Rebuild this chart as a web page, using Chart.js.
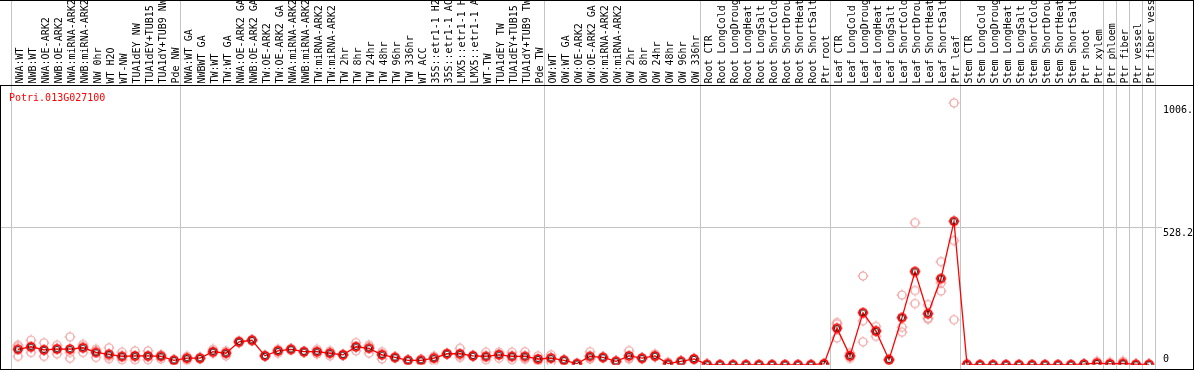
<!DOCTYPE html>
<html><head><meta charset="utf-8">
<script src="https://cdn.jsdelivr.net/npm/chart.js@4.4.1/dist/chart.umd.min.js"></script>
<style>html,body{margin:0;padding:0;background:#fff;overflow:hidden}#wrap{width:1194px;height:370px;position:relative}canvas{display:block}</style>
</head><body><div id="wrap"><canvas id="c" width="1194" height="370"></canvas></div>
<script>
const geneId = 'Potri.013G027100';
const categories = [
  'NWA:WT','NWB:WT','NWA:OE-ARK2','NWB:OE-ARK2','NWA:miRNA-ARK2','NWB:miRNA-ARK2','NW 0hr','WT H2O','WT-NW','TUA1dEY NW','TUA1dEY+TUB15','TUA1dY+TUB9 NW','Pde NW',
  'NWA:WT GA','NWBWT GA','TW:WT','TW:WT GA','NWA:OE-ARK2 GA','NWB:OE-ARK2 GA','TW:OE-ARK2','TW:OE-ARK2 GA','NWA:miRNA-ARK2','NWB:miRNA-ARK2','TW:miRNA-ARK2','TW:miRNA-ARK2','TW 2hr','TW 8hr','TW 24hr','TW 48hr','TW 96hr','TW 336hr','WT ACC','35S::etr1-1 H2','35S::etr1-1 AC','LMX5::etr1-1 H','LMX5::etr1-1 A','WT-TW','TUA1dEY TW','TUA1dEY+TUB15','TUA1dY+TUB9 TW','Pde TW',
  'OW:WT','OW:WT GA','OW:OE-ARK2','OW:OE-ARK2 GA','OW:miRNA-ARK2','OW:miRNA-ARK2','OW 2hr','OW 8hr','OW 24hr','OW 48hr','OW 96hr','OW 336hr',
  'Root CTR','Root LongCold','Root LongDroug','Root LongHeat','Root LongSalt','Root ShortCold','Root ShortDrou','Root ShortHeat','Root ShortSalt','Ptr root',
  'Leaf CTR','Leaf LongCold','Leaf LongDroug','Leaf LongHeat','Leaf LongSalt','Leaf ShortCold','Leaf ShortDrou','Leaf ShortHeat','Leaf ShortSalt','Ptr leaf',
  'Stem CTR','Stem LongCold','Stem LongDroug','Stem LongHeat','Stem LongSalt','Stem ShortCold','Stem ShortDrou','Stem ShortHeat','Stem ShortSalt','Ptr shoot','Ptr xylem',
  'Ptr phloem','Ptr fiber','Ptr vessel','Ptr fiber vess'
];
const groupSizes = [13, 28, 12, 10, 10, 11, 1, 1, 1, 1];
const meanValues = [
  59,69,57,60,60,65,47,40,32,34,34,32,17,
  25,25,50,44,88,94,34,53,59,50,50,44,38,69,63,38,28,17,17,25,42,42,34,32,38,32,32,22,
  25,17,4,32,28,13,34,25,34,4,13,22,
  1,0,0,0,0,0,0,0,0,3,
  140,34,200,129,19,181,358,196,331,551,
  1,0,0,0,0,0,0,0,0,2,6,
  3,5,1,1
];
const rep1 = [
  75,94,84,75,107,78,59,65,48,53,53,38,19,
  32,28,59,53,92,96,36,59,62,52,59,53,40,85,75,50,30,19,22,32,44,63,36,48,48,48,50,34,
  38,19,5,50,30,15,54,27,41,10,15,25,
  2,0,0,0,0,0,0,0,0,5,
  162,45,341,147,22,268,546,231,396,1006,
  2,0,0,0,0,0,0,0,0,3,13,
  9,13,2,2
];
const rep2 = [
  32,47,32,42,47,47,28,32,19,19,19,22,15,
  17,22,44,34,84,92,32,44,56,48,41,34,36,53,44,22,26,15,10,13,40,28,32,19,25,19,25,13,
  10,15,3,22,26,11,22,23,30,1,11,19,
  1,0,0,0,0,0,0,0,0,2,
  156,25,169,109,16,144,285,179,315,477,
  1,0,0,0,0,0,0,0,0,2,3,
  1,2,1,1
];
const rep3 = [
  70,66,55,63,25,70,54,23,29,30,30,36,17,
  26,25,47,45,88,94,34,56,59,50,50,45,38,69,70,42,28,17,19,30,42,35,34,29,41,29,21,19,
  27,17,4,24,28,13,26,25,31,1,13,22,
  0,0,0,0,0,0,0,0,0,2,
  103,32,88,131,19,125,235,175,283,173,
  0,0,0,0,0,0,0,0,0,1,2,
  0,0,0,0
];
const yTickValues = [0, 528.2, 1006];
const yTickLabels = ['0', '528.2', '1006.'];
const yLabelOffsets = [-2.5, 8.5, 10];

const FONT = '10px "DejaVu Sans Mono", "Liberation Mono", monospace';
const RED = '#ff0000', PINK = '#f0a0a0', GRID = '#c4c4c4';

function marker(color, inner) {
  const c = document.createElement('canvas');
  c.width = 12; c.height = 12;
  const g = c.getContext('2d');
  g.strokeStyle = color; g.lineWidth = inner ? 1.7 : 1.2;
  g.beginPath(); g.arc(6, 6, 4, 0, Math.PI * 2); g.stroke();
  g.fillStyle = color;
  g.fillRect(5.5, 0.5, 1, 1.5); g.fillRect(5.5, 10, 1, 1.5);
  g.fillRect(0.5, 5.5, 1.5, 1); g.fillRect(10, 5.5, 1.5, 1);
  if (inner) {
    g.strokeStyle = inner; g.lineWidth = 0.8;
    g.beginPath(); g.arc(6, 6, 2.7, 0, Math.PI * 2); g.stroke();
  }
  return c;
}
const meanMarker = marker(RED, '#000');
const repMarker = marker(PINK, null);

const decor = {
  id: 'decor',
  beforeDatasetsDraw(chart) {
    const ctx = chart.ctx, xs = chart.scales.x, ys = chart.scales.y;
    const H = chart.height;
    ctx.save();
    ctx.fillStyle = GRID;
    let idx = 0;
    const bounds = [xs.getPixelForValue(0) - 6.5];
    groupSizes.forEach(s => { idx += s; bounds.push(xs.getPixelForValue(idx - 1) + 6.5); });
    bounds.forEach(b => ctx.fillRect(Math.floor(b), 0, 1, H));
    const gy = Math.round(ys.getPixelForValue(yTickValues[1]));
    ctx.fillRect(0, gy, 1162, 1);
    ctx.fillStyle = '#000';
    ctx.font = FONT;
    ctx.textAlign = 'left';
    ctx.textBaseline = 'alphabetic';
    categories.forEach((lab, i) => {
      const x = xs.getPixelForValue(i);
      ctx.save();
      ctx.translate(x + 4.7, 83.5);
      ctx.rotate(-Math.PI / 2);
      ctx.fillText(lab, 0, 0);
      ctx.restore();
    });
    ctx.fillStyle = RED;
    ctx.fillText(geneId, 9, 101);
    ctx.fillStyle = '#000';
    yTickValues.forEach((v, i) => {
      ctx.fillText(yTickLabels[i], 1163, ys.getPixelForValue(v) + yLabelOffsets[i]);
    });
    ctx.restore();
  },
  afterDraw(chart) {
    const ctx = chart.ctx, W = chart.width, H = chart.height;
    ctx.save();
    ctx.fillStyle = '#000';
    ctx.fillRect(0, 85, W, 1);
    ctx.fillRect(0, 0, W, 1);
    ctx.fillRect(0, 85, 1, H - 85);
    ctx.fillRect(W - 1, 0, 1, H);
    ctx.fillRect(0, H - 1, W, 1);
    ctx.restore();
  }
};

new Chart(document.getElementById('c'), {
  type: 'line',
  data: {
    labels: categories,
    datasets: [
      { label: 'mean', data: meanValues, borderColor: RED, borderWidth: 1.3, pointStyle: meanMarker, tension: 0, fill: false },
      { label: 'rep1', data: rep1, showLine: false, pointStyle: repMarker },
      { label: 'rep2', data: rep2, showLine: false, pointStyle: repMarker },
      { label: 'rep3', data: rep3, showLine: false, pointStyle: repMarker }
    ]
  },
  options: {
    responsive: false,
    animation: false,
    devicePixelRatio: 1,
    layout: { padding: { left: 11.5, right: 38.5, top: 0, bottom: 1.5 } },
    plugins: { legend: { display: false }, tooltip: { enabled: false }, title: { display: false } },
    scales: {
      x: { type: 'category', offset: true, display: false },
      y: { type: 'linear', min: 0, max: 1381, display: false }
    }
  },
  plugins: [decor]
});
</script>
</body></html>
